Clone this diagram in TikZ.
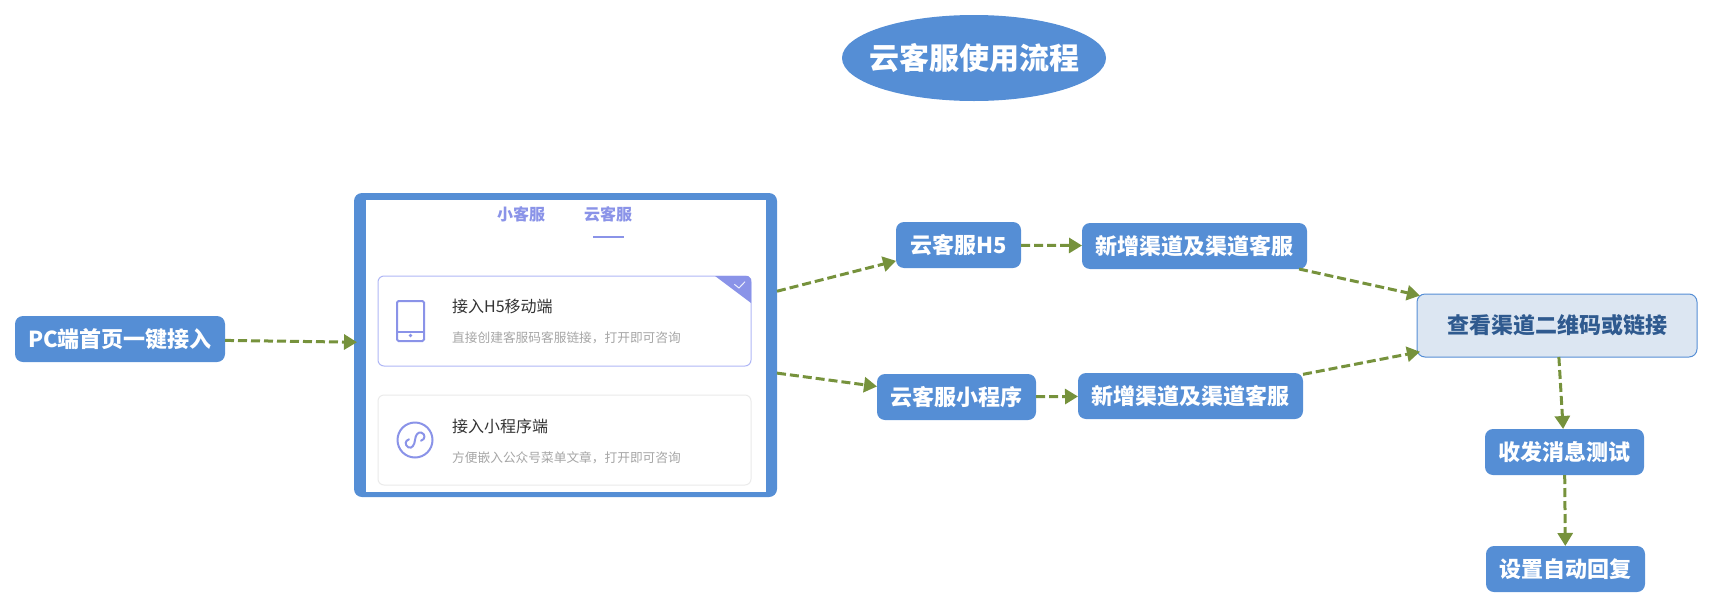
\documentclass[tikz,border=0pt]{standalone}
\usepackage{fontspec}
\setmainfont{Noto Sans CJK SC}
\usepackage{xcolor}
\usepackage{tikz}
\usetikzlibrary{arrows.meta, shapes.geometric}

\definecolor{boxblue}{HTML}{558ED5}
\definecolor{arrowgreen}{HTML}{76923C}
\definecolor{paleblue}{HTML}{DCE6F2}
\definecolor{deepblue}{HTML}{2F5A8F}
\definecolor{iconblue}{HTML}{8A93E8}
\definecolor{cardline}{HTML}{B0B7F6}

\begin{document}
\begin{tikzpicture}[
  x=1pt, y=-1pt,
  stepbox/.style={rectangle, rounded corners=8pt, fill=boxblue, text=white,
                  minimum height=46pt, inner sep=0pt, outer sep=0pt,
                  font=\fontsize{22pt}{26pt}\selectfont\bfseries},
  titleoval/.style={ellipse, fill=boxblue, text=white, inner xsep=-12pt, inner ysep=0pt,
                  outer sep=0pt, minimum width=264pt, minimum height=86pt,
                  font=\fontsize{30pt}{36pt}\selectfont\bfseries},
  panelbox/.style={rectangle, rounded corners=8pt, fill=boxblue,
                  minimum width=423pt, minimum height=304pt, inner sep=0pt, outer sep=0pt},
  cardbox/.style={rectangle, rounded corners=6pt, draw=#1, line width=1pt, fill=white,
                  minimum width=373pt, minimum height=90pt, inner sep=0pt},
  tabtext/.style={font=\fontsize{16pt}{20pt}\selectfont\bfseries, text=iconblue, inner sep=0pt},
  cardtitle/.style={font=\fontsize{16pt}{20pt}\selectfont, text=black!80, anchor=west, inner sep=0pt},
  cardnote/.style={font=\fontsize{12.7pt}{16pt}\selectfont, text=black!35, anchor=west, inner sep=0pt},
  icon/.style={draw=iconblue, line width=2pt},
  conn/.style={draw=arrowgreen, line width=3pt, dash pattern=on 9pt off 4pt, ->},
  >={Triangle[length=13pt,width=15pt]}
]
\useasboundingbox (0,0) rectangle (1713,608);

\def\cardL{452}  % x of card texts

% --- Title ---
\node[titleoval] (title) at (974,58) {云客服使用流程};

% --- Flow boxes ---
\node[stepbox, minimum width=210pt] (pc) at (120,339) {PC端首页一键接入};
\node[stepbox, minimum width=125pt] (h5) at (958.5,245) {云客服H5};
\node[stepbox, minimum width=225pt] (chanA) at (1194.5,246) {新增渠道及渠道客服};
\node[stepbox, minimum width=159pt] (mini) at (956.5,397) {云客服小程序};
\node[stepbox, minimum width=225pt] (chanB) at (1190.5,396) {新增渠道及渠道客服};
\node[stepbox, minimum width=280pt, minimum height=63pt, fill=paleblue, draw=boxblue,
      line width=1pt, text=deepblue] (view) at (1557,325.5) {查看渠道二维码或链接};
\node[stepbox, minimum width=159pt] (test) at (1564.5,452) {收发消息测试};
\node[stepbox, minimum width=159pt] (auto) at (1565.5,569) {设置自动回复};

% --- Screenshot panel ---
\node[panelbox] (panel) at (565.5,345) {};
\node[rectangle, fill=white, minimum width=400pt, minimum height=292pt, inner sep=0pt]
  (sheet) at (566,346) {};

\node[tabtext] (tabA) at (521,214) {小客服};
\node[tabtext] (tabB) at (608,214) {云客服};
\draw[iconblue, line width=1.5pt] (593,237) -- (624,237);

% --- Cards ---
\node[cardbox=cardline] (cardA) at (564.5,321) {};
\node[cardbox=black!8] (cardB) at (564.5,440) {};

\node[cardtitle] (nameA) at (\cardL,306) {接入H5移动端};
\node[cardnote] (noteA) at (\cardL,338) {直接创建客服码客服链接，打开即可咨询};
\node[cardtitle] (nameB) at (\cardL,426) {接入小程序端};
\node[cardnote] (noteB) at (\cardL,458) {方便嵌入公众号菜单文章，打开即可咨询};

% corner mark
\fill[iconblue] (715,276) -- (748,276) -- (751,279) -- (751,303) -- cycle;
\draw[white!85!iconblue, line width=1pt] (734.3,284.3) -- (739,288) -- (745,281.7);

% tablet icon
\draw[icon, rounded corners=1.5pt] (397,301) rectangle (424,341);
\draw[icon] (397,332) -- (424,332);
\fill[iconblue] (410.5,335.5) circle (1.8pt);

% mini program icon
\draw[icon] (415,440) circle (17.5pt);
\draw[icon, line cap=round] (409,439.3) .. controls (405,440.5) and (404.5,445) .. (408.3,447.3)
  .. controls (412,449) and (414.5,445) .. (415,440)
  .. controls (415.5,435) and (418,431.5) .. (421.5,432.7)
  .. controls (425.5,434) and (425.5,439.5) .. (421,440.7);

% --- Connections ---
\foreach \src/\dst in {panel/h5, panel/mini, h5/chanA, mini/chanB, view/test, test/auto}{
  \draw[conn] (\src) -- (\dst);
}
\foreach \src/\dst in {pc/panel, chanA/view, chanB/view}{
  \draw[conn, shorten >=-3pt] (\src) -- (\dst);
}

\end{tikzpicture}
\end{document}
